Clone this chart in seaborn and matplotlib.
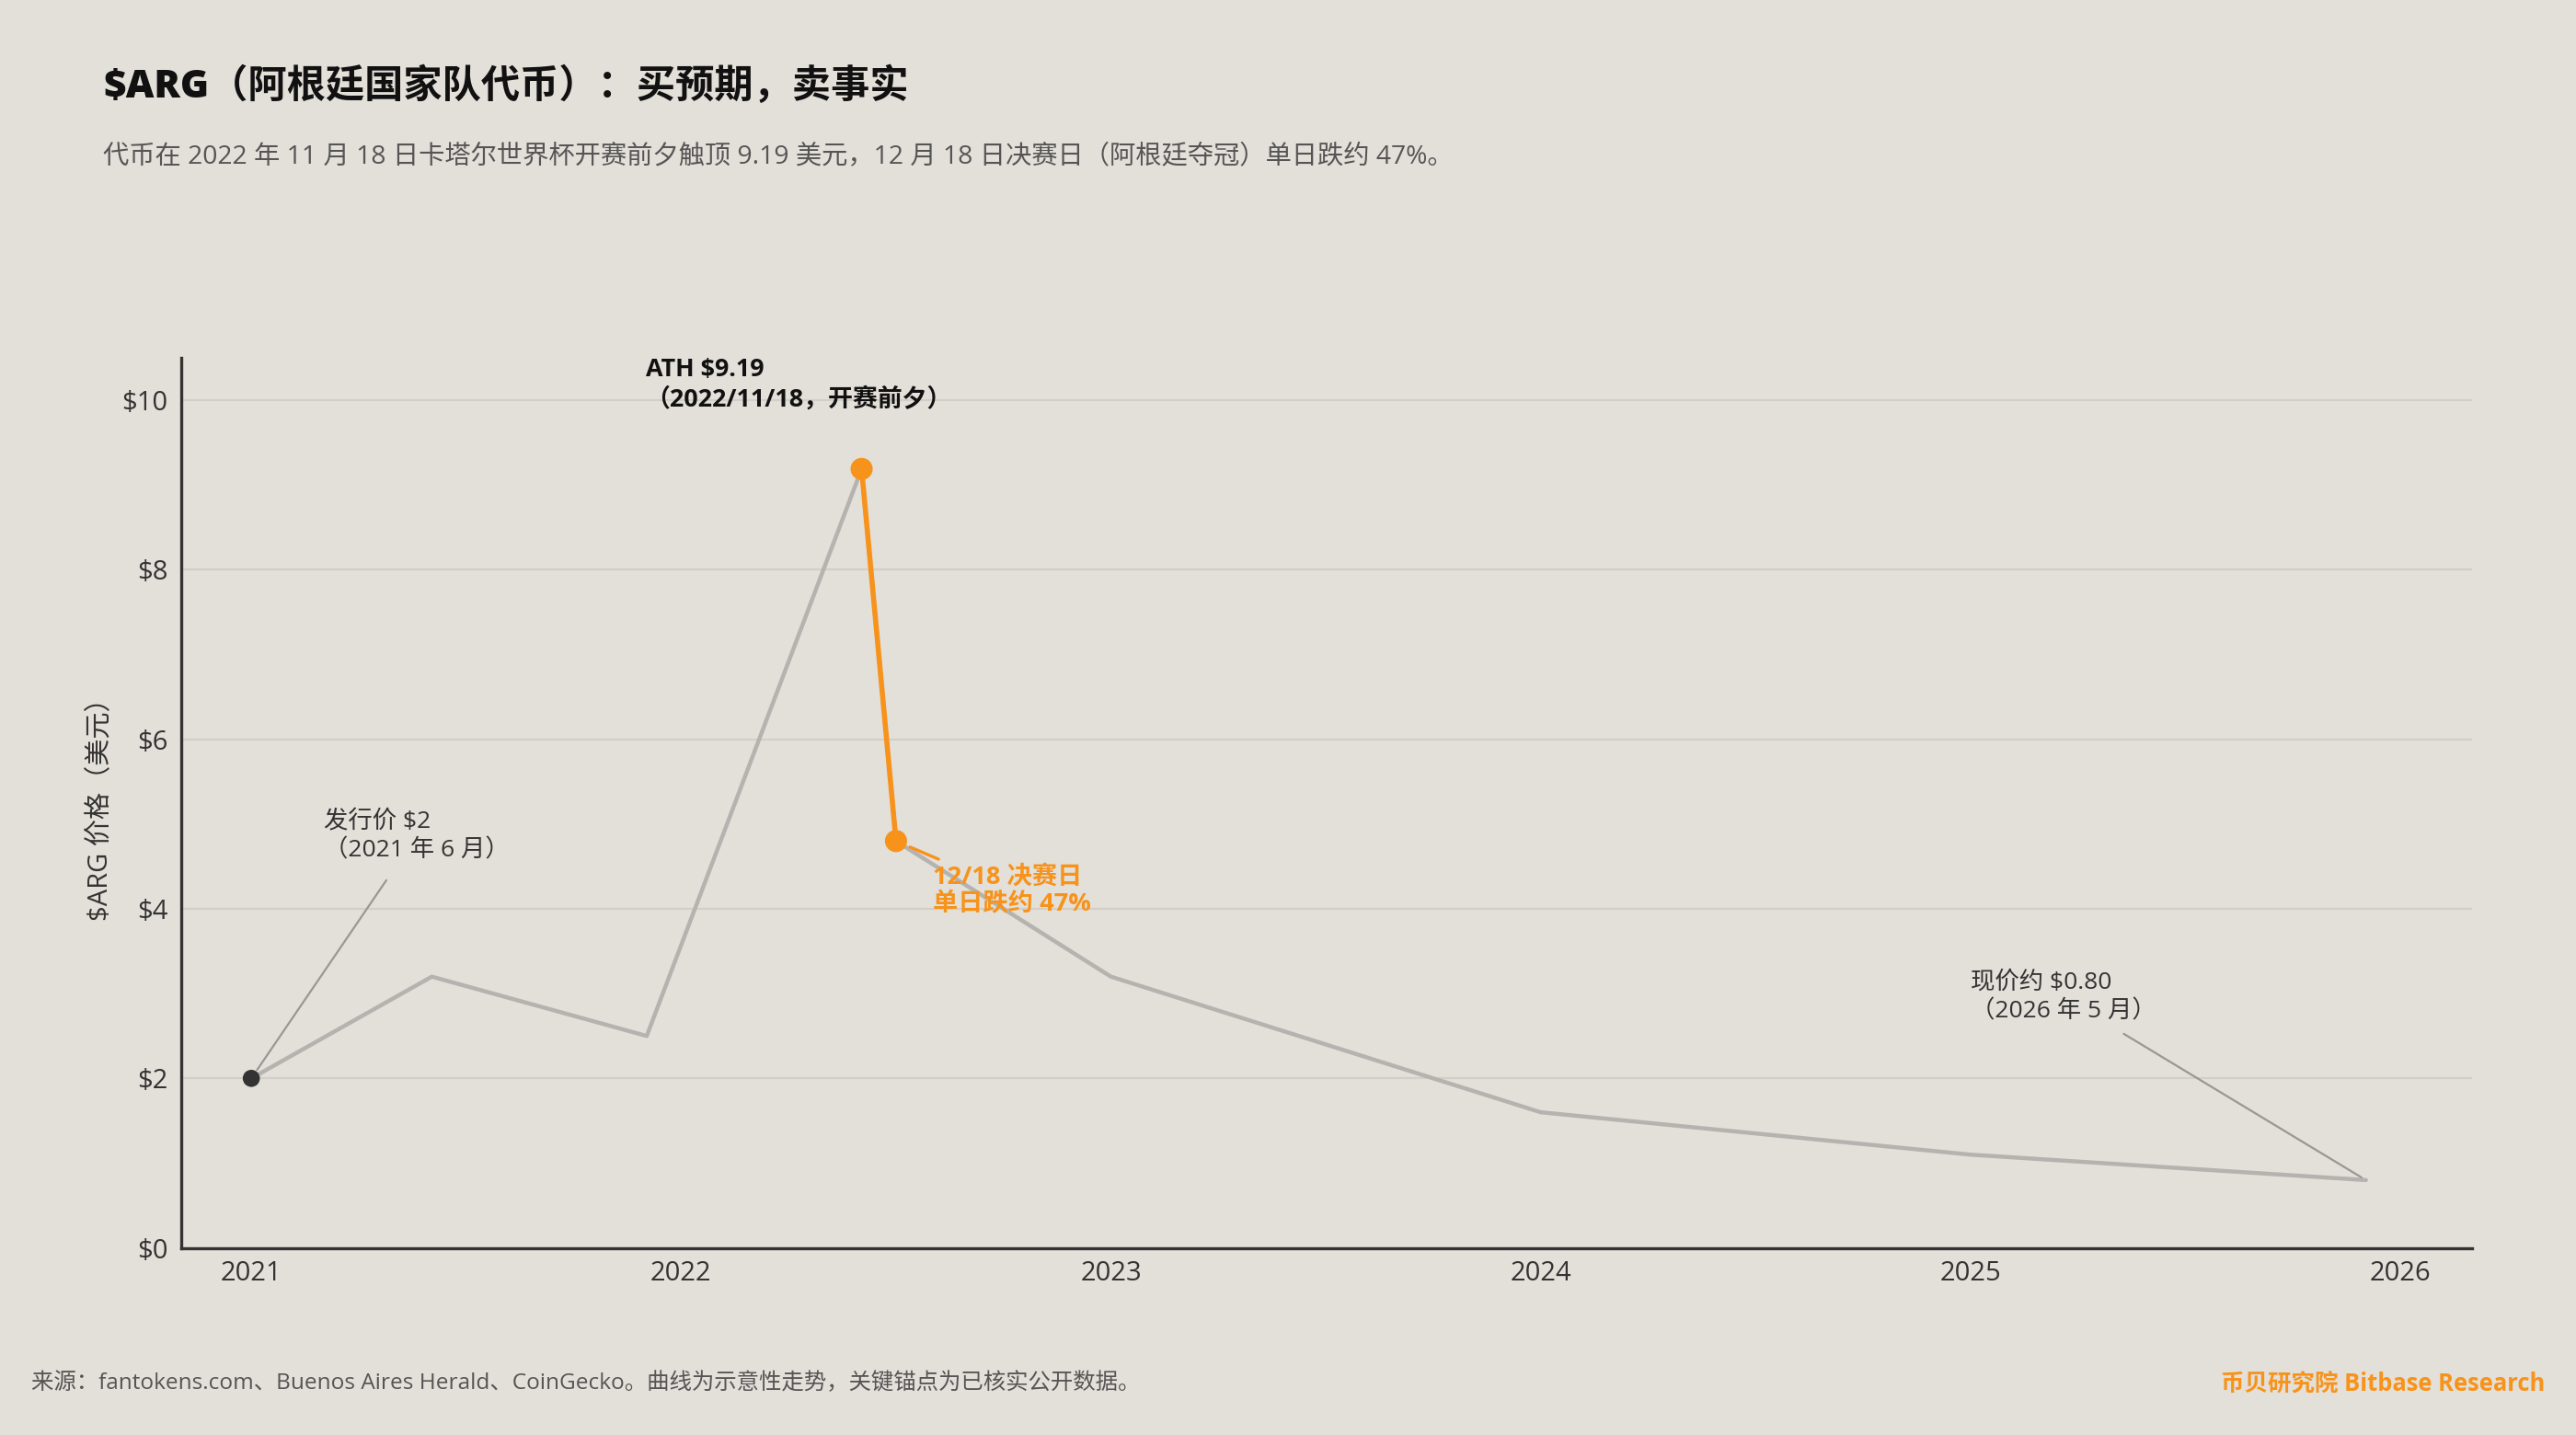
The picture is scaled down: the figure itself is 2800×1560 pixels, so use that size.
import matplotlib
matplotlib.use('Agg')
import matplotlib.pyplot as plt
import seaborn as sns
import pandas as pd

# ---- data ----
years = [2021.0, 2021.42, 2021.92, 2022.42, 2022.50, 2023.0, 2024.0, 2025.0, 2025.92]
prices = [2.0, 3.2, 2.5, 9.19, 4.8, 3.2, 1.6, 1.1, 0.80]
drop_years = [2022.42, 2022.50]
drop_prices = [9.19, 4.8]
launch_year = [2021.0]
launch_price = [2.0]
x_ticks = [2021, 2022, 2023, 2024, 2025, 2026]
x_tick_labels = ['2021', '2022', '2023', '2024', '2025', '2026']
y_ticks = [0, 2, 4, 6, 8, 10]
y_tick_labels = [r'\$0', r'\$2', r'\$4', r'\$6', r'\$8', r'\$10']

BG = '#E3DFD9'
ORANGE = '#F7931A'
GREY = '#B5B3B0'
DARK = '#333333'

sns.set_theme(style='white')
FAM = ['Open Sans', 'Noto Sans CJK SC', 'DejaVu Sans']
plt.rcParams['font.family'] = FAM
plt.rcParams['axes.unicode_minus'] = False

fig = plt.figure(figsize=(14, 7.8), dpi=200, facecolor=BG)
ax = fig.add_axes([0.0702, 0.1304, 0.8896, 0.6202])
ax.set_facecolor(BG)

df = pd.DataFrame({'year': years, 'price': prices})
df_drop = pd.DataFrame({'year': drop_years, 'price': drop_prices})
df_launch = pd.DataFrame({'year': launch_year, 'price': launch_price})

sns.lineplot(data=df, x='year', y='price', ax=ax, color=GREY, linewidth=1.6,
             sort=False, zorder=2)
sns.lineplot(data=df_drop, x='year', y='price', ax=ax, color=ORANGE, linewidth=2.0,
             sort=False, zorder=3)
sns.scatterplot(data=df_drop, x='year', y='price', ax=ax, color=ORANGE, s=75,
                edgecolor='none', zorder=4)
sns.scatterplot(data=df_launch, x='year', y='price', ax=ax, color=DARK, s=45,
                edgecolor='none', zorder=4)

ax.set_xlim(2020.836, 2026.168)
ax.set_ylim(0, 10.5)
ax.set_xticks(x_ticks)
ax.set_xticklabels(x_tick_labels)
ax.set_yticks(y_ticks)
ax.set_yticklabels(y_tick_labels)
ax.tick_params(axis='both', length=0, labelsize=10.5, colors=DARK)
ax.tick_params(axis='x', pad=5)
ax.tick_params(axis='y', pad=5)
ax.grid(axis='y', color='#D2CEC8', linewidth=0.8)
ax.grid(axis='x', visible=False)
for s in ['top', 'right']:
    ax.spines[s].set_visible(False)
for s in ['left', 'bottom']:
    ax.spines[s].set_color(DARK)
    ax.spines[s].set_linewidth(1.2)
ax.set_xlabel('')
ax.set_ylabel(r'\$ARG 价格（美元）', fontsize=10.5, color=DARK, labelpad=3)

# annotations
ax.annotate('发行价 \\$2\n（2021 年 6 月）', xy=(launch_year[0], launch_price[0]),
            xytext=(2021.168, 5.16), ha='left', va='top', fontsize=9.5, color=DARK,
            linespacing=1.3,
            arrowprops=dict(arrowstyle='-', color='#9A9794', lw=0.8, shrinkA=6, shrinkB=4))
ax.annotate('ATH \\$9.19\n（2022/11/18，开赛前夕）', xy=(drop_years[0], drop_prices[0]),
            xytext=(2021.917, 10.5), ha='left', va='top', fontsize=9.7, color='#111111',
            fontweight='bold', linespacing=1.3)
ax.annotate('12/18 决赛日\n单日跌约 47%', xy=(drop_years[1], drop_prices[1]),
            xytext=(2022.586, 4.52), ha='left', va='top', fontsize=9.8, color=ORANGE,
            fontweight='bold', linespacing=1.2,
            arrowprops=dict(arrowstyle='-', color=ORANGE, lw=1.2, shrinkA=0, shrinkB=6))
ax.annotate('现价约 \\$0.80\n（2026 年 5 月）', xy=(years[-1], prices[-1]),
            xytext=(2025.0, 3.26), ha='left', va='top', fontsize=9.5, color=DARK,
            linespacing=1.3,
            arrowprops=dict(arrowstyle='-', color='#9A9794', lw=0.8, shrinkA=4, shrinkB=2))

# titles
fig.text(0.040, 0.939, r'\$ARG（阿根廷国家队代币）：买预期，卖事实', fontsize=15.2,
         fontweight='heavy', color='#111111', ha='left', va='center')
fig.text(0.040, 0.891, '代币在 2022 年 11 月 18 日卡塔尔世界杯开赛前夕触顶 9.19 美元，12 月 18 日决赛日（阿根廷夺冠）单日跌约 47%。',
         fontsize=10.2, color='#555555', ha='left', va='center')

# footer
fig.text(0.012, 0.0355, '来源：fantokens.com、Buenos Aires Herald、CoinGecko。曲线为示意性走势，关键锚点为已核实公开数据。',
         fontsize=8.8, color='#555555', ha='left', va='center')
fig.text(0.988, 0.0355, '币贝研究院 Bitbase Research', fontsize=9.2, color=ORANGE,
         fontweight='bold', ha='right', va='center')

fig.savefig('out.png', dpi=200, facecolor=BG)
